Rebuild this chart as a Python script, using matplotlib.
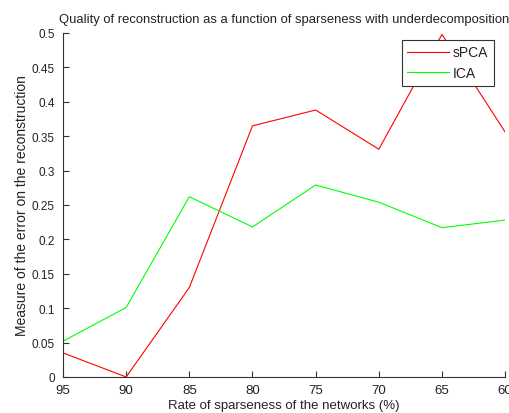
import matplotlib

matplotlib.use("Agg")
import matplotlib.pyplot as plt

sparseness = [95, 90, 85, 80, 75, 70, 65, 60]
spca_err = [0.035, 0.0, 0.13, 0.365, 0.388, 0.331, 0.498, 0.356]
ica_err = [0.052, 0.101, 0.262, 0.218, 0.279, 0.254, 0.217, 0.228]
y_ticks = [0, 0.05, 0.1, 0.15, 0.2, 0.25, 0.3, 0.35, 0.4, 0.45, 0.5]
y_tick_labels = ["0", "0.05", "0.1", "0.15", "0.2", "0.25", "0.3", "0.35", "0.4", "0.45", "0.5"]

plt.rcParams["font.family"] = ["Liberation Sans", "DejaVu Sans"]
txt_color = "#222222"

fig = plt.figure(figsize=(5.1, 4.14), dpi=100)
ax = fig.add_axes([0.1235, 0.087, 0.867, 0.831])

ax.plot(sparseness, spca_err, color="#ff0000", lw=0.8, label="sPCA")
ax.plot(sparseness, ica_err, color="#00ff00", lw=0.8, label="ICA")

ax.set_xlim(95, 60)
ax.set_ylim(0, 0.5)
ax.set_xticks(sparseness)
ax.set_xticklabels([str(s) for s in sparseness], fontsize=9.5)
ax.set_yticks(y_ticks)
ax.set_yticklabels(y_tick_labels, fontsize=8.5)
ax.tick_params(direction="in", length=4, width=0.8, colors="#333333", labelcolor=txt_color)
ax.tick_params(axis="x", pad=5)
ax.tick_params(axis="y", pad=6)
for side in ["top", "right"]:
    ax.spines[side].set_visible(False)
for side in ["left", "bottom"]:
    ax.spines[side].set_linewidth(0.8)
    ax.spines[side].set_color("#333333")

ax.set_xlabel("Rate of sparseness of the networks (%)", fontsize=9.5, color=txt_color, labelpad=2)
ax.set_ylabel("Measure of the error on the reconstruction", fontsize=10, color=txt_color, labelpad=2)
ax.set_title("Quality of reconstruction as a function of sparseness with underdecomposition",
             fontsize=9.4, color=txt_color, pad=8)

leg = ax.legend(loc="upper right", bbox_to_anchor=(0.975, 0.98), fancybox=False,
                framealpha=1, edgecolor="#333333", fontsize=10, handlelength=3,
                handletextpad=0.3, borderpad=0.4, borderaxespad=0, labelspacing=0.5)
leg.get_frame().set_linewidth(0.8)
for t in leg.get_texts():
    t.set_color(txt_color)

fig.savefig("out.png", dpi=100)
